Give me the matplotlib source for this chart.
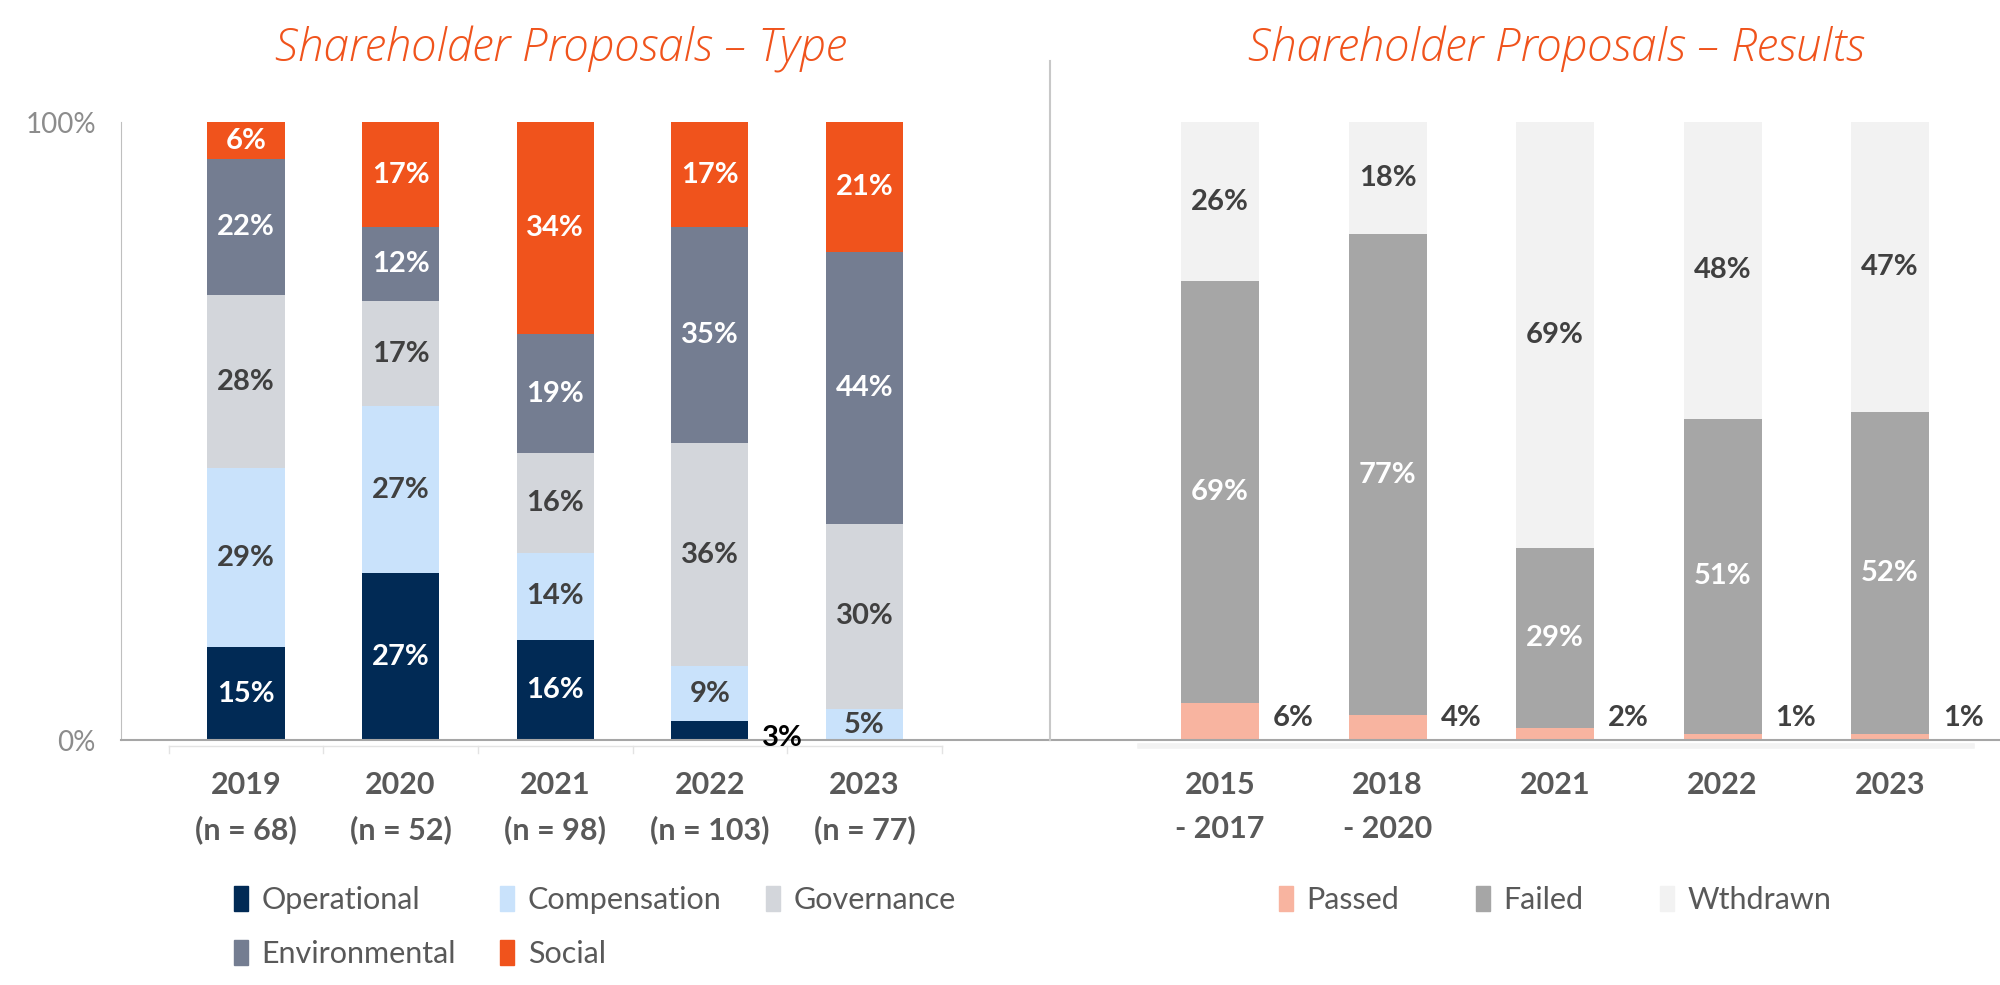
import matplotlib.pyplot as plt
from matplotlib.lines import Line2D
from matplotlib.patches import Patch
import numpy as np

plt.rcParams['font.family'] = ['Lato', 'DejaVu Sans']

# proposal type by year (% of proposals)
type_years = ["2019\n(n = 68)", "2020\n(n = 52)", "2021\n(n = 98)", "2022\n(n = 103)", "2023\n(n = 77)"]
operational = [15, 27, 16, 3, 0]
compensation = [29, 27, 14, 9, 5]
governance = [28, 17, 16, 36, 30]
environmental = [22, 12, 19, 35, 44]
social = [6, 17, 34, 17, 21]

# proposal results by period (%)
result_periods = ["2015\n- 2017", "2018\n- 2020", "2021", "2022", "2023"]
passed = [6, 4, 2, 1, 1]
failed = [69, 77, 29, 51, 52]
withdrawn = [26, 18, 69, 48, 47]

ORANGE = "#f0531c"
DARK = "#404040"
TICK = "#595959"

fig = plt.figure(figsize=(20, 9.85), dpi=100)
ax1 = fig.add_axes([0.0605, 0.2487, 0.4645, 0.6274])
ax2 = fig.add_axes([0.525, 0.2487, 0.4745, 0.6274])


def stacked(ax, series, colors, label_colors, width):
    data = np.array(series, dtype=float)
    shares = data / data.sum(axis=0)
    x = np.arange(data.shape[1])
    bottom = np.zeros(data.shape[1])
    for vals, share, col, lc in zip(data, shares, colors, label_colors):
        ax.bar(x, share, width, bottom=bottom, color=col, zorder=2)
        if lc is not None:
            for xi, v, s, b0 in zip(x, vals, share, bottom):
                if v >= 4:
                    ax.text(xi, b0 + s / 2, f"{v:.0f}%", ha="center", va="center",
                            color=lc, fontsize=21, fontweight="bold", zorder=3)
        bottom = bottom + share
    return x, shares


# ---- left chart ----
type_colors = ["#012a55", "#c9e2fb", "#d3d6db", "#747d91", ORANGE]
type_names = ["Operational", "Compensation", "Governance", "Environmental", "Social"]
x1, sh1 = stacked(ax1, [operational, compensation, governance, environmental, social],
                  type_colors, ["white", DARK, DARK, "white", "white"], 0.5)
# the 3% operational slice in 2022 is labelled beside the bar
i = 3
ax1.annotate(f"{operational[i]}%", (x1[i] + 0.25, sh1[0][i] / 2), xytext=(10, -5),
             textcoords="offset points", ha="left", va="center",
             color="black", fontsize=21, fontweight="bold")

ax1.set_xlim(-0.808, 5.2)
ax1.set_ylim(0, 1)
ax1.set_xticks(x1, type_years)
ax1.set_yticks([0, 1], ["0%", "100%"])
ax1.tick_params(axis="x", length=0, pad=22, labelsize=22, labelcolor=TICK)
ax1.tick_params(axis="y", length=0, pad=18, labelsize=20, labelcolor="#8c8c8c")
for lab in ax1.get_xticklabels():
    lab.set_fontweight("bold")
    lab.set_linespacing(1.7)
for s in ["top", "right"]:
    ax1.spines[s].set_visible(False)
ax1.spines["left"].set_color("#bfbfbf")
ax1.spines["bottom"].set_color("#a6a6a6")
ax1.spines["bottom"].set_linewidth(1.5)

# category separators under the baseline
tr = ax1.get_xaxis_transform()
seps = np.arange(len(type_years) + 1) - 0.5
ax1.plot([seps[0], seps[-1]], [-0.009, -0.009], transform=tr, color="#e3e3e3", lw=1, clip_on=False)
for s in seps:
    ax1.plot([s, s], [-0.009, -0.021], transform=tr, color="#e3e3e3", lw=1, clip_on=False)

# legend filled row by row: reorder for matplotlib's column-major layout
order = [0, 3, 1, 4, 2]
ax1.legend(handles=[Patch(color=type_colors[k], label=type_names[k]) for k in order],
           ncol=3, loc="upper left", bbox_to_anchor=(0.117, 0.101), bbox_transform=fig.transFigure,
           frameon=False, fontsize=22, handlelength=0.45, handleheight=0.9, handletextpad=0.45,
           columnspacing=1.45, labelspacing=0.85, borderpad=0, borderaxespad=0, labelcolor=TICK)

# ---- right chart ----
x2, sh2 = stacked(ax2, [passed, failed, withdrawn],
                  ["#f8b4a0", "#a6a6a6", "#f2f2f2"], [None, "white", DARK], 0.466)
for xi, v in zip(x2, passed):
    ax2.annotate(f"{v}%", (xi + 0.233, 0.035), xytext=(10, 0), textcoords="offset points",
                 ha="left", va="center", color=DARK, fontsize=21, fontweight="bold")

ax2.set_xlim(-1.015, 4.65)
ax2.set_ylim(0, 1)
ax2.set_xticks(x2, result_periods)
ax2.set_yticks([])
ax2.tick_params(axis="x", length=0, pad=22, labelsize=22, labelcolor=TICK)
for lab in ax2.get_xticklabels():
    lab.set_fontweight("bold")
    lab.set_linespacing(1.7)
for s in ["top", "right", "left"]:
    ax2.spines[s].set_visible(False)
ax2.spines["bottom"].set_color("#a6a6a6")
ax2.spines["bottom"].set_linewidth(1.5)
tr2 = ax2.get_xaxis_transform()
ax2.plot([-0.48, 4.49], [-0.01, -0.01], transform=tr2, color="#f2f2f2", lw=4, clip_on=False)

ax2.legend(handles=[Patch(color=c, label=l) for c, l in zip(
    ["#f8b4a0", "#a6a6a6", "#f2f2f2"], ["Passed", "Failed", "Wthdrawn"])],
    ncol=3, loc="upper left", bbox_to_anchor=(0.6395, 0.101), bbox_transform=fig.transFigure,
    frameon=False, fontsize=22, handlelength=0.45, handleheight=0.9, handletextpad=0.45,
    columnspacing=2.5, borderpad=0, borderaxespad=0, labelcolor=TICK)

# divider between the two panels
fig.add_artist(Line2D([0.525, 0.525], [(985 - 61) / 985, 0.2487], color="#c8c8c8", lw=1.5))

title_font = ["Open Sans", "DejaVu Sans"]
fig.text(0.2805, 0.95, "Shareholder Proposals \u2013 Type", ha="center", va="center",
         color=ORANGE, fontsize=33, fontstyle="italic", fontweight="light", family=title_font)
fig.text(0.778, 0.95, "Shareholder Proposals \u2013 Results", ha="center", va="center",
         color=ORANGE, fontsize=33, fontstyle="italic", fontweight="light", family=title_font)

fig.savefig("out.png", dpi=100)
